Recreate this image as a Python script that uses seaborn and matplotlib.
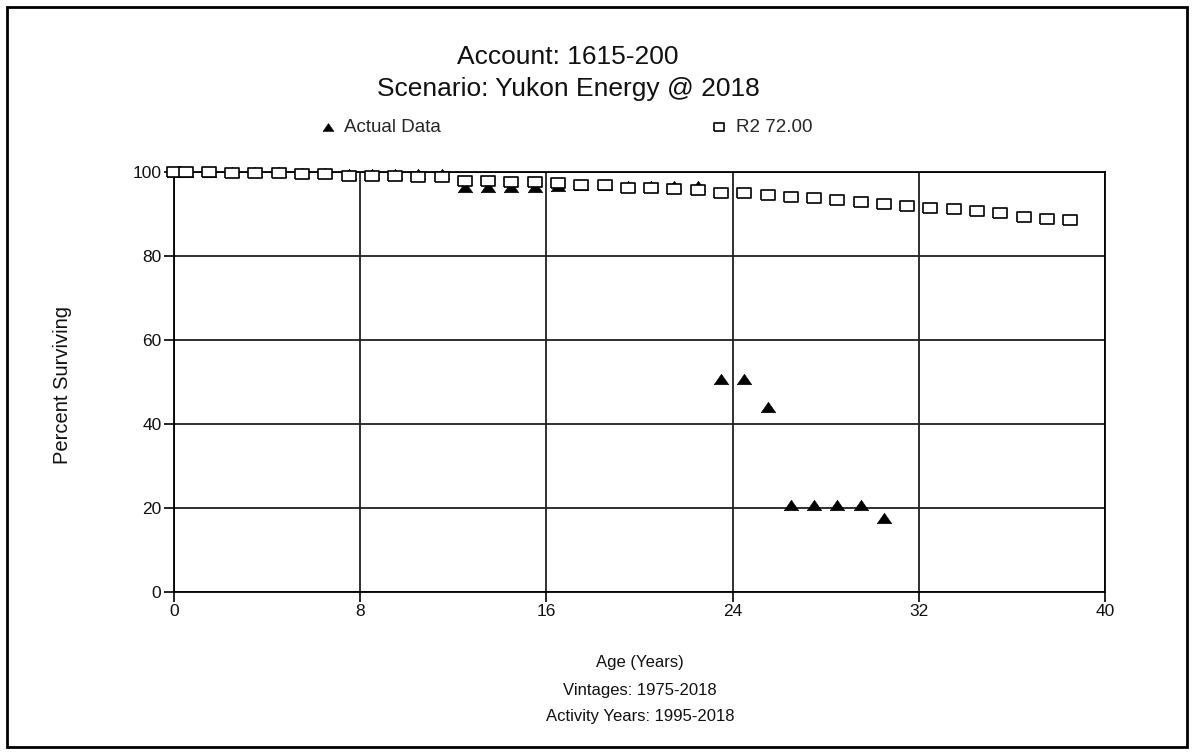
import numpy as np
import pandas as pd
import matplotlib
matplotlib.use("Agg")
import matplotlib.pyplot as plt
import seaborn as sns
from matplotlib.patches import Rectangle

# Observed survivor percentages by age
actual_age = [0, 0.5, 1.5, 2.5, 3.5, 4.5, 5.5, 6.5, 7.5, 8.5, 9.5, 10.5, 11.5,
              12.5, 13.5, 14.5, 15.5, 16.5, 17.5, 18.5, 19.5, 20.5, 21.5, 22.5,
              23.5, 24.5, 25.5, 26.5, 27.5, 28.5, 29.5, 30.5]
actual_pct = [100, 100, 100, 100, 100, 100, 99.8, 99.8, 99.5, 99.5, 99.5, 99.5, 99.5,
              96.4, 96.4, 96.4, 96.4, 96.6, 96.8, 96.8, 96.6, 96.6, 96.6, 96.6,
              50.6, 50.6, 44.1, 20.7, 20.7, 20.7, 20.7, 17.6]

# Fitted Iowa R2 curve, 72-year average life
curve_age = [0, 0.5, 1.5, 2.5, 3.5, 4.5, 5.5, 6.5, 7.5, 8.5, 9.5, 10.5, 11.5,
             12.5, 13.5, 14.5, 15.5, 16.5, 17.5, 18.5, 19.5, 20.5, 21.5, 22.5,
             23.5, 24.5, 25.5, 26.5, 27.5, 28.5, 29.5, 30.5, 31.5, 32.5, 33.5,
             34.5, 35.5, 36.5, 37.5, 38.5]
curve_pct = [100, 100, 100, 99.8, 99.8, 99.8, 99.5, 99.5, 99.0, 99.1, 99.0, 98.8, 98.7,
             97.9, 97.9, 97.6, 97.6, 97.4, 96.8, 96.8, 96.3, 96.3, 95.9, 95.6,
             95.0, 95.0, 94.6, 94.1, 93.7, 93.3, 92.9, 92.4, 91.9, 91.4, 91.1,
             90.8, 90.2, 89.3, 88.9, 88.5]

x_ticks = [0, 8, 16, 24, 32, 40]
y_ticks = [0, 20, 40, 60, 80, 100]

title_lines = ["Account: 1615-200", "Scenario: Yukon Energy @ 2018"]
x_label_lines = ["Age (Years)", "Vintages: 1975-2018", "Activity Years: 1995-2018"]
y_label = "Percent Surviving"
actual_name = "Actual Data"
curve_name = "R2 72.00"

actual_df = pd.DataFrame({"age": actual_age, "pct": actual_pct})
curve_df = pd.DataFrame({"age": curve_age, "pct": curve_pct})

sns.set_theme(style="white")
plt.rcParams["font.family"] = ["Liberation Sans", "DejaVu Sans"]

fig = plt.figure(figsize=(11.94, 7.55), dpi=100)
ax = fig.add_axes([174 / 1194, 1 - 592 / 755, (1105 - 174) / 1194, (592 - 172) / 755])

tri = [(-1, -0.72), (1, -0.72), (0, 0.72), (-1, -0.72)]
rect = [(-1, -0.75), (1, -0.75), (1, 0.75), (-1, 0.75), (-1, -0.75)]

sns.scatterplot(data=actual_df, x="age", y="pct", ax=ax, marker=tri, s=110,
                color="black", edgecolor="black", linewidth=0.4,
                label=actual_name, clip_on=False, zorder=3)
sns.scatterplot(data=curve_df, x="age", y="pct", ax=ax, marker=rect, s=95,
                facecolor="white", edgecolor="black", linewidth=1.2,
                label=curve_name, clip_on=False, zorder=4)

ax.set_xlim(0, 40)
ax.set_ylim(0, 100)
ax.set_xticks(x_ticks)
ax.set_yticks(y_ticks)
ax.grid(True, color="#202020", linewidth=1.3)
ax.set_axisbelow(True)
for s in ax.spines.values():
    s.set_color("black")
    s.set_linewidth(1.3)
ax.tick_params(axis="both", which="major", direction="out", length=7, width=1.2,
               color="black", labelsize=12.5, labelcolor="#111111", pad=2,
               bottom=True, left=True)
ax.set_xlabel("")
ax.set_ylabel("")

fig.text(62 / 1194, 1 - 385 / 755, y_label, rotation=90, ha="center", va="center",
         fontsize=14.5, color="#111111")
for i, line in enumerate(x_label_lines):
    fig.text(640 / 1194, 1 - (663 + 27 * i) / 755, line, ha="center", va="center",
             fontsize=12, color="#111111")
fig.text(568 / 1194, 1 - 57 / 755, title_lines[0], ha="center", va="center",
         fontsize=19, color="#111111")
fig.text(568 / 1194, 1 - 89 / 755, title_lines[1], ha="center", va="center",
         fontsize=19, color="#111111")

leg = ax.legend(loc="center", bbox_to_anchor=(567 / 1194, 1 - 127 / 755),
                bbox_transform=fig.transFigure, ncol=2, frameon=False,
                fontsize=13.5, handlelength=0.6, handletextpad=0.6,
                columnspacing=14.5, markerscale=0.75)

fig.add_artist(Rectangle((7 / 1194, 8 / 755), 1180 / 1194, 740 / 755,
                         transform=fig.transFigure, fill=False,
                         edgecolor="black", linewidth=2))

fig.savefig("out.png", dpi=100)
